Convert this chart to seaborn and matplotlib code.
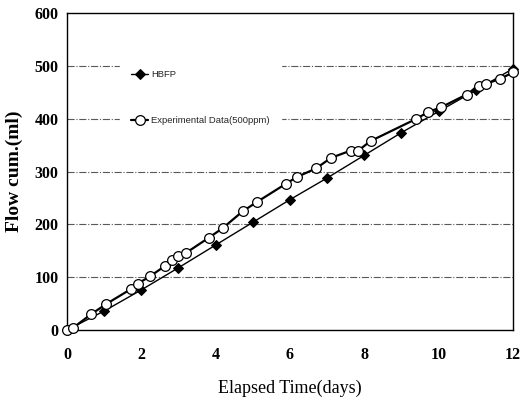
import numpy as np
import matplotlib.pyplot as plt
import pandas as pd
import seaborn as sns

# HBFP model
hbfp_days = [0, 1, 2, 3, 4, 5, 6, 7, 8, 9, 10, 11, 12]
hbfp_flow = [0, 36, 76, 118, 161, 204, 247, 288, 331, 374, 414, 454, 495]

# experimental data (500 ppm)
exp_days = [0, 0.16, 0.65, 1.05, 1.73, 1.91, 2.24, 2.65, 2.82, 3.0, 3.2, 3.82, 4.19,
            4.73, 5.1, 5.89, 6.19, 6.7, 7.1, 7.64, 7.84, 8.17, 9.4, 9.72, 10.07,
            10.75, 11.09, 11.27, 11.66, 12.0]
exp_flow = [0, 4, 30, 49, 78, 88, 102, 122, 132, 141, 146, 175, 193,
            225, 242, 277, 290, 306, 326, 340, 340, 358, 400, 413, 422,
            446, 463, 466, 476, 488]

x_ticks = [0, 2, 4, 6, 8, 10, 12]
y_ticks = [0, 100, 200, 300, 400, 500, 600]

hbfp = pd.DataFrame({"days": hbfp_days, "flow": hbfp_flow})
exp = pd.DataFrame({"days": exp_days, "flow": exp_flow})

sns.set_theme(style="white")
plt.rcParams["font.family"] = ["Liberation Serif", "DejaVu Serif"]

fig = plt.figure(figsize=(5.21, 4.01), dpi=100)
ax = fig.add_axes([0.1286, 0.177, 0.856, 0.79])

for v in y_ticks[1:-1]:
    ax.axhline(v, color="0.35", lw=0.8, ls="-.", zorder=0)

sns.lineplot(data=hbfp, x="days", y="flow", ax=ax, estimator=None, color="black",
             lw=1.0, marker="D", markersize=5.5, markerfacecolor="black",
             markeredgecolor="black", label="HBFP", zorder=3)
sns.lineplot(data=exp, x="days", y="flow", ax=ax, estimator=None, color="black",
             lw=1.6, marker="o", markersize=7, markerfacecolor="white",
             markeredgecolor="black", markeredgewidth=0.9,
             label="Experimental Data(500ppm)", zorder=4)
for ln in ax.lines:
    ln.set_clip_on(False)

ax.set_xlim(0, 12)
ax.set_ylim(0, 600)
ax.set_xticks(x_ticks)
ax.set_yticks(y_ticks)
for s in ax.spines.values():
    s.set_color("black")
    s.set_linewidth(1.0)
ax.tick_params(axis="x", direction="in", length=3, pad=12, labelsize=11.5, colors="black")
ax.tick_params(axis="y", direction="in", length=3, pad=6, labelsize=11.5, colors="black")
for t in ax.get_xticklabels() + ax.get_yticklabels():
    t.set_fontweight("bold")

ax.set_xlabel("Elapsed Time(days)", fontsize=13, labelpad=12, color="black")
ax.set_ylabel("Flow cum.(ml)", fontsize=14, fontweight="bold", labelpad=8, color="black")

leg = ax.legend(loc="upper left", bbox_to_anchor=(0.108, 0.87), frameon=True,
                facecolor="white", edgecolor="white", framealpha=1,
                fancybox=False, labelspacing=3.9, handlelength=1.8,
                handletextpad=0.3, borderpad=1.2,
                prop={"family": ["Liberation Sans Narrow", "Liberation Sans", "DejaVu Sans"], "size": 6.8})
leg.set_zorder(5)

plt.savefig("out.png", dpi=100)
